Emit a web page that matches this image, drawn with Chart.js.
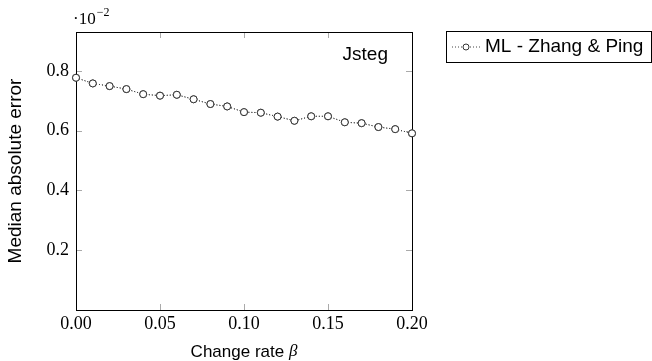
<!DOCTYPE html>
<html>
<head>
<meta charset="utf-8">
<script src="https://cdn.jsdelivr.net/npm/chart.js@4.4.1/dist/chart.umd.min.js"></script>
<style>
  html, body { margin: 0; padding: 0; background: #fff; }
  canvas { display: block; }
</style>
</head>
<body>
<canvas id="chart" width="652" height="361"></canvas>
<script>
// change rate beta
const changeRates = [0.00, 0.01, 0.02, 0.03, 0.04, 0.05, 0.06, 0.07, 0.08, 0.09, 0.10,
  0.11, 0.12, 0.13, 0.14, 0.15, 0.16, 0.17, 0.18, 0.19, 0.20];
// median absolute error, in units of 10^-2
const mlZhangPing = [0.777, 0.758, 0.749, 0.739, 0.722, 0.717, 0.720, 0.705, 0.689, 0.681, 0.662,
  0.660, 0.647, 0.633, 0.648, 0.648, 0.628, 0.625, 0.612, 0.605, 0.591];
const xTicks = [0.00, 0.05, 0.10, 0.15, 0.20];
const yTicks = [0.2, 0.4, 0.6, 0.8];

const serif = '"Liberation Serif", "DejaVu Serif", serif';
const sans = '"Liberation Sans", Arial, sans-serif';
const lineColor = '#444';

// box, inner ticks, legend and annotations in pgfplots style
const decorations = {
  id: 'decorations',
  afterDraw(chart) {
    const { ctx, chartArea: a, scales: { x, y } } = chart;
    ctx.save();

    // inner tick marks
    ctx.strokeStyle = '#aaa';
    ctx.lineWidth = 1;
    ctx.beginPath();
    xTicks.slice(1, -1).forEach(v => {
      const px = Math.round(x.getPixelForValue(v)) + 0.5;
      ctx.moveTo(px, a.bottom); ctx.lineTo(px, a.bottom - 6);
      ctx.moveTo(px, a.top); ctx.lineTo(px, a.top + 6);
    });
    yTicks.forEach(v => {
      const py = Math.round(y.getPixelForValue(v)) + 0.5;
      ctx.moveTo(a.left, py); ctx.lineTo(a.left + 6, py);
      ctx.moveTo(a.right, py); ctx.lineTo(a.right - 6, py);
    });
    ctx.stroke();

    // frame
    ctx.strokeStyle = '#000';
    ctx.strokeRect(Math.round(a.left) + 0.5, Math.round(a.top) + 0.5,
      Math.round(a.right - a.left), Math.round(a.bottom - a.top));

    // redraw the points so they sit above the frame
    chart.getDatasetMeta(0).controller.draw();

    // axis multiplier
    ctx.fillStyle = '#000';
    ctx.textBaseline = 'alphabetic';
    ctx.textAlign = 'left';
    ctx.font = '17px ' + serif;
    ctx.fillText('\u00b710', a.left - 3, 24);
    const w = ctx.measureText('\u00b710').width;
    ctx.font = '12px ' + serif;
    ctx.fillText('\u22122', a.left - 2 + w, 16);

    // Jsteg label
    ctx.font = '19px ' + sans;
    ctx.textAlign = 'right';
    ctx.textBaseline = 'middle';
    ctx.fillText('Jsteg', a.right - 24, 55);

    // x axis title with italic beta
    ctx.textAlign = 'left';
    ctx.font = '17px ' + sans;
    const t1 = 'Change rate ';
    const w1 = ctx.measureText(t1).width;
    ctx.font = 'italic 17px ' + serif;
    const w2 = ctx.measureText('\u03b2').width;
    const cx = (a.left + a.right) / 2;
    const sx = cx - (w1 + w2) / 2;
    ctx.font = '17px ' + sans;
    ctx.fillText(t1, sx, 352);
    ctx.font = 'italic 17px ' + serif;
    ctx.fillText('\u03b2', sx + w1, 352);

    // legend box
    const ds = chart.data.datasets[0];
    const lx = a.right + 34, ly = 31, lw = 205, lh = 31;
    ctx.fillStyle = '#fff';
    ctx.fillRect(lx, ly, lw, lh);
    ctx.strokeStyle = '#000';
    ctx.lineWidth = 1;
    ctx.strokeRect(lx + 0.5, ly + 0.5, lw, lh);
    const my = ly + lh / 2 + 0.5;
    ctx.strokeStyle = lineColor;
    ctx.setLineDash([1, 2]);
    ctx.beginPath();
    ctx.moveTo(lx + 6, my); ctx.lineTo(lx + 34, my);
    ctx.stroke();
    ctx.setLineDash([]);
    ctx.beginPath();
    ctx.arc(lx + 20, my, 3, 0, Math.PI * 2);
    ctx.fillStyle = '#fff';
    ctx.fill();
    ctx.strokeStyle = '#333';
    ctx.stroke();
    ctx.fillStyle = '#000';
    ctx.font = '19px ' + sans;
    ctx.textBaseline = 'middle';
    ctx.fillText(ds.label, lx + 39, my);

    ctx.restore();
  }
};

new Chart(document.getElementById('chart'), {
  type: 'line',
  data: {
    datasets: [{
      label: 'ML - Zhang & Ping',
      data: changeRates.map((b, i) => ({ x: b, y: mlZhangPing[i] })),
      borderColor: lineColor,
      borderWidth: 1,
      borderDash: [1, 2],
      pointRadius: 3.5,
      pointBorderWidth: 1,
      pointBorderColor: '#333',
      pointBackgroundColor: '#fff',
      tension: 0,
      clip: false
    }]
  },
  options: {
    responsive: false,
    animation: false,
    layout: { padding: { top: 32, right: 240, left: 0, bottom: 0 } },
    scales: {
      x: {
        type: 'linear',
        min: 0,
        max: 0.2,
        afterFit: s => { s.height = 51; },
        afterBuildTicks: s => { s.ticks = xTicks.map(v => ({ value: v })); },
        grid: { display: false, drawTicks: false },
        border: { display: false },
        ticks: {
          padding: 3,
          color: '#000',
          font: { family: serif, size: 18 },
          callback: v => v.toFixed(2)
        }
      },
      y: {
        min: 0,
        max: 0.93,
        afterFit: s => { s.width = 76; },
        afterBuildTicks: s => { s.ticks = yTicks.map(v => ({ value: v })); },
        grid: { display: false, drawTicks: false },
        border: { display: false },
        ticks: {
          padding: 7,
          color: '#000',
          font: { family: serif, size: 18 },
          callback: v => v.toFixed(1)
        },
        title: {
          display: true,
          text: 'Median absolute error',
          color: '#000',
          font: { family: sans, size: 19 },
          padding: { top: 4, bottom: 0 }
        }
      }
    },
    plugins: {
      legend: { display: false },
      tooltip: { enabled: false }
    }
  },
  plugins: [decorations]
});
</script>
</body>
</html>
